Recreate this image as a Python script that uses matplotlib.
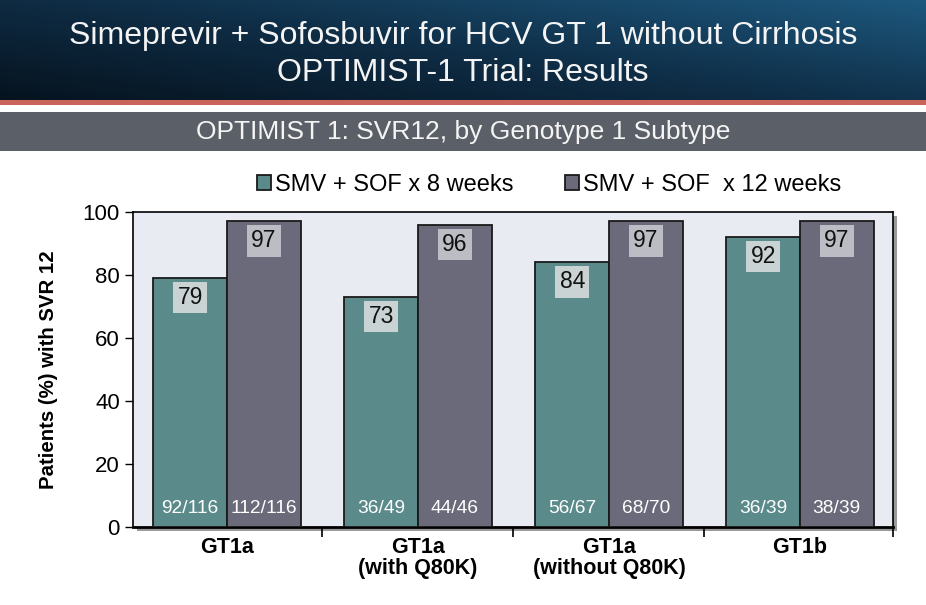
import numpy as np
import matplotlib
matplotlib.use('Agg')
import matplotlib.pyplot as plt
from matplotlib.patches import Rectangle
from matplotlib.colors import LinearSegmentedColormap

# data
categories = ['GT1a', 'GT1a\n(with Q80K)', 'GT1a\n(without Q80K)', 'GT1b']
svr_8wk = [79, 73, 84, 92]
svr_12wk = [97, 96, 97, 97]
n_8wk = ['92/116', '36/49', '56/67', '36/39']
n_12wk = ['112/116', '44/46', '68/70', '38/39']
series_names = ['SMV + SOF x 8 weeks', 'SMV + SOF  x 12 weeks']

plt.rcParams['font.family'] = ['Liberation Sans', 'DejaVu Sans']

c_green = '#5b8a8b'
c_gray = '#6b6a7a'

fig = plt.figure(figsize=(9.26, 6.05), dpi=100)

# header band with gradient (dark top-left, lighter bottom-right)
hdr = fig.add_axes([0, 1 - 101 / 605, 1, 101 / 605])
gx = np.linspace(0, 1, 300)[None, :]
gy = np.linspace(0, 1, 60)[:, None]
grad = 0.55 * gx + 0.45 * gy
hdr.imshow(grad, aspect='auto', origin='lower', extent=[0, 1, 0, 1],
           cmap=LinearSegmentedColormap.from_list('hdr', ['#06131f', '#0f2e47', '#1d587e']))
hdr.set_axis_off()
fig.text(0.5, 1 - 36 / 605, 'Simeprevir + Sofosbuvir for HCV GT 1 without Cirrhosis',
         ha='center', va='center', color='#f4f4f4', fontsize=23)
fig.text(0.5, 1 - 73 / 605, 'OPTIMIST-1 Trial: Results',
         ha='center', va='center', color='#f4f4f4', fontsize=23)
fig.add_artist(Rectangle((0, 1 - 105 / 605), 1, 5 / 605, transform=fig.transFigure,
                         color='#c8645a', lw=0))
fig.add_artist(Rectangle((0, 1 - 151 / 605), 1, 39 / 605, transform=fig.transFigure,
                         color='#5b6068', lw=0))
fig.text(0.5, 1 - 132 / 605, 'OPTIMIST 1: SVR12, by Genotype 1 Subtype',
         ha='center', va='center', color='#f4f4f4', fontsize=19)

# plot area
left, bottom, w, h = 133 / 926, 78 / 605, 760 / 926, 315 / 605
fig.add_artist(Rectangle((left + 4 / 926, bottom - 4 / 605), w, h, transform=fig.transFigure,
                         color='#9a9a9a', lw=0, zorder=0))
ax = fig.add_axes([left, bottom, w, h])
ax.set_facecolor('#e8ecf2')

x = np.arange(len(categories))
bw = 0.385
b1 = ax.bar(x - bw / 2, svr_8wk, bw, color=c_green, edgecolor='#1a1a1a', lw=1.3,
            label=series_names[0], zorder=3)
b2 = ax.bar(x + bw / 2, svr_12wk, bw, color=c_gray, edgecolor='#1a1a1a', lw=1.3,
            label=series_names[1], zorder=3)

for xi, v, n in zip(x - bw / 2, svr_8wk, n_8wk):
    ax.text(xi, v - 6.2, str(v), ha='center', va='center', fontsize=16.5, color='#111111',
            zorder=5, bbox=dict(boxstyle='square,pad=0.18', fc='#c9d3d3', ec='none'))
    ax.text(xi, 6, n, ha='center', va='center', fontsize=13.8, color='white', zorder=5)
for xi, v, n in zip(x + bw / 2, svr_12wk, n_12wk):
    ax.text(xi, v - 6.2, str(v), ha='center', va='center', fontsize=16.5, color='#111111',
            zorder=5, bbox=dict(boxstyle='square,pad=0.18', fc='#bcbcc4', ec='none'))
    ax.text(xi, 6, n, ha='center', va='center', fontsize=13.8, color='white', zorder=5)

ax.set_ylim(0, 100)
ax.set_xlim(-0.492, 3.487)
ax.set_yticks(range(0, 101, 20))
ax.tick_params(axis='y', labelsize=16, length=6, width=1)
ax.set_xticks(x)
ax.set_xticklabels(categories, fontsize=15.5, fontweight='bold', linespacing=1.0)
ax.tick_params(axis='x', length=0, pad=7)
ax.set_xticks([0.5, 1.5, 2.5, 3.487], minor=True)
ax.tick_params(axis='x', which='minor', length=7, width=1.2)
ax.set_ylabel('Patients (%) with SVR 12', fontsize=14.7, fontweight='bold', labelpad=18)
for s in ax.spines.values():
    s.set_linewidth(1.2)
ax.spines['bottom'].set_linewidth(2)

fig.legend(handles=[b1, b2], loc='center', bbox_to_anchor=(0.593, 1 - 185 / 605), ncol=2,
           frameon=False, fontsize=17, handlelength=0.6, handleheight=0.6,
           handletextpad=0.15, columnspacing=2.2)

fig.savefig('out.png', dpi=100)
